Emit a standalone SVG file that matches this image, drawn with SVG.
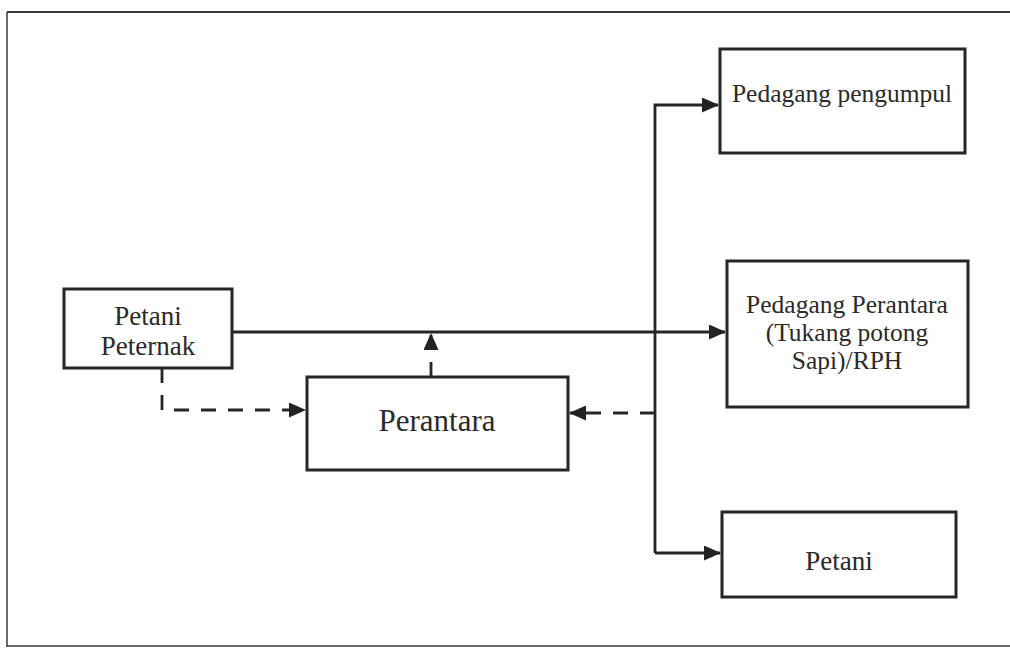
<svg xmlns="http://www.w3.org/2000/svg" width="1010" height="648" viewBox="0 0 1010 648">
<style>
.box{fill:#fff;stroke:#262626;stroke-width:3}
.lbl{font-family:"Liberation Serif","Times New Roman",serif;font-size:27px;fill:#2a2a2a;text-anchor:middle}
.sm{font-size:25.5px}
.con{fill:none;stroke:#262626;stroke-width:2.8}
.dash{stroke-dasharray:15 12}
.frame{stroke:#3a3a3a;fill:none}
</style>
<defs>
<marker id="ah" markerUnits="userSpaceOnUse" markerWidth="17" markerHeight="15" refX="16" refY="7.5" orient="auto">
<path d="M0,0 L17,7.5 L0,15 Z" fill="#222"/>
</marker>
</defs>
<rect x="0" y="0" width="1010" height="648" fill="#fff"/>
<g id="frame">
<line class="frame" x1="7" y1="12" x2="1010" y2="12" stroke-width="2"/>
<line class="frame" x1="7" y1="12" x2="7" y2="647" stroke-width="1.5"/>
<line class="frame" x1="7" y1="646" x2="1010" y2="646" stroke-width="1.5"/>
</g>
<g id="connectors">
<path class="con" d="M232 332 H725" marker-end="url(#ah)"/>
<path class="con" d="M655 553 V105 H718" marker-end="url(#ah)"/>
<path class="con" d="M655 553 H720" marker-end="url(#ah)"/>
<path class="con dash" d="M162 368 V410 H305" marker-end="url(#ah)"/>
<path class="con dash" d="M431 377 V334" marker-end="url(#ah)"/>
<path class="con dash" d="M655 413 H570" marker-end="url(#ah)"/>
</g>
<g id="petani-peternak">
<rect class="box" x="64" y="289" width="168" height="79"/>
<text class="lbl" x="148" y="325">Petani</text>
<text class="lbl" x="148" y="355">Peternak</text>
</g>
<g id="perantara">
<rect class="box" x="307" y="377" width="261" height="93"/>
<text class="lbl" x="437" y="431" style="font-size:31px">Perantara</text>
</g>
<g id="pedagang-pengumpul">
<rect class="box" x="720" y="49" width="245" height="104"/>
<text class="lbl sm" x="842" y="102">Pedagang pengumpul</text>
</g>
<g id="pedagang-perantara">
<rect class="box" x="727" y="261" width="241" height="146"/>
<text class="lbl sm" x="847" y="313">Pedagang Perantara</text>
<text class="lbl sm" x="847" y="341">(Tukang potong</text>
<text class="lbl sm" x="847" y="369">Sapi)/RPH</text>
</g>
<g id="petani">
<rect class="box" x="722" y="512" width="234" height="85"/>
<text class="lbl" x="839" y="570">Petani</text>
</g>
</svg>
